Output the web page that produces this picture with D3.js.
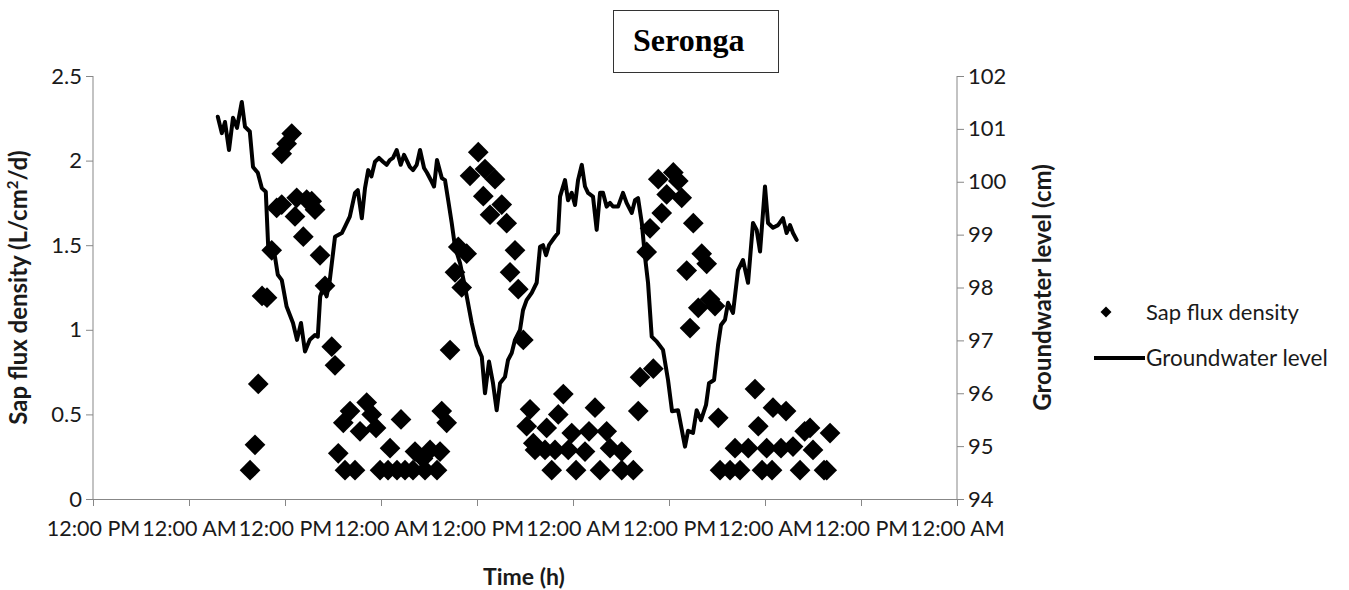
<!DOCTYPE html>
<html>
<head>
<meta charset="utf-8">
<script src="https://cdn.jsdelivr.net/npm/d3@7"></script>
<style>
html,body{margin:0;padding:0;background:#fff;}
svg{display:block;}
</style>
</head>
<body>
<svg id="chart" width="1349" height="590"></svg>
<script>
// ---- Data ----
const chartTitle = "Seronga";
const xTickLabels = ["12:00 PM","12:00 AM","12:00 PM","12:00 AM","12:00 PM","12:00 AM","12:00 PM","12:00 AM","12:00 PM","12:00 AM"];
const xTickHours = [0,12,24,36,48,60,72,84,96,108];
const leftTicks = [0,0.5,1,1.5,2,2.5];
const rightTicks = [94,95,96,97,98,99,100,101,102];

// Groundwater level (cm), hours since first tick
const gwHours = [15.6,16.1,16.5,17.0,17.5,18.0,18.6,19.0,19.6,20.0,20.6,21.1,21.6,21.9,22.75,23.1,23.6,24.2,25.0,25.5,26.0,26.5,27.1,27.75,28.1,28.4,29.0,29.2,29.6,30.25,31.1,31.5,32.1,32.75,33.1,33.6,34.0,34.4,34.8,35.25,35.75,36.25,36.7,37.1,37.5,37.96,38.46,38.88,39.2,39.6,40.0,40.46,40.88,41.38,41.75,42.34,42.63,43.0,43.6,44.0,44.4,44.84,45.25,45.88,46.5,47.34,47.96,48.6,49.0,49.5,50.0,50.46,50.88,51.5,51.88,52.34,52.75,53.38,53.75,54.2,54.84,55.46,55.88,56.25,56.63,57.0,57.75,58.13,58.38,59.0,59.38,59.84,60.25,60.63,61.1,61.5,61.88,62.5,62.96,63.38,63.75,64.2,64.63,65.0,65.63,66.25,66.7,67.34,67.75,68.13,68.6,69.0,69.38,69.84,70.5,71.25,71.88,72.38,73.13,74.0,74.38,75.0,75.46,76.0,76.63,77.0,77.63,78.13,78.5,79.0,79.38,80.0,80.63,81.25,81.88,82.5,82.96,83.38,84.0,84.38,85.0,85.63,86.25,86.7,87.13,87.5,87.96];
const gwLevel = [101.23,100.92,101.13,100.60,101.21,101.02,101.51,101.04,100.95,100.28,100.17,99.88,99.81,98.77,98.58,98.24,98.14,97.64,97.33,97.01,97.33,96.79,97.01,97.10,97.07,97.83,98.09,97.83,98.14,98.96,99.03,99.15,99.34,99.79,99.84,99.31,99.88,100.22,100.10,100.38,100.45,100.38,100.32,100.41,100.45,100.60,100.32,100.51,100.41,100.28,100.22,100.32,100.60,100.26,100.17,100.00,99.91,100.41,100.07,100.03,99.65,99.22,98.77,98.46,98.01,97.33,96.91,96.69,96.00,96.60,96.19,95.68,96.19,96.31,96.63,96.76,97.01,97.20,97.57,97.76,97.90,98.09,98.77,98.80,98.61,98.80,98.96,99.03,99.72,100.03,99.65,99.79,99.56,100.03,100.32,99.91,99.79,99.72,99.09,99.79,99.79,99.53,99.60,99.53,99.53,99.79,99.60,99.41,99.65,99.69,99.22,98.58,98.09,97.07,96.97,96.82,96.25,95.66,95.68,94.99,95.29,95.25,95.68,95.49,95.78,96.19,96.25,96.91,97.29,97.39,97.71,97.52,98.33,98.52,98.09,99.22,99.09,98.68,99.91,99.22,99.13,99.18,99.31,99.03,99.18,99.03,98.90];

// Sap flux density (L/cm2/d), hours since first tick
const sapHours = [19.63,20.25,20.66,21.13,21.75,22.34,22.96,23.59,23.59,24.21,24.84,25.25,25.46,26.29,26.71,27.34,27.75,28.38,29.0,29.84,30.25,30.66,31.29,31.5,32.13,32.75,33.38,34.21,34.84,35.38,35.88,36.88,37.13,38.0,38.5,39.0,40.0,40.25,41.25,41.5,42.13,43.0,43.38,43.59,44.21,44.63,45.25,45.66,46.09,46.71,47.13,48.16,48.79,49.0,49.63,50.25,51.09,51.71,52.13,52.75,53.16,53.79,54.21,54.63,55.04,55.25,56.5,56.71,57.34,57.75,58.16,58.79,59.41,59.84,60.38,61.5,62.0,62.75,63.38,64.21,64.63,66.09,66.09,67.54,68.16,68.38,69.21,69.63,70.04,70.66,71.09,71.71,72.54,73.16,73.59,74.21,74.63,75.04,75.66,76.09,76.71,77.13,77.75,78.16,78.38,79.63,80.88,80.25,81.91,82.75,83.16,83.63,84.21,84.88,85.0,86.0,86.63,87.5,88.38,88.96,89.63,90.0,91.38,91.71,92.13];
const sapValues = [0.17,0.32,0.68,1.20,1.19,1.47,1.72,1.74,2.04,2.10,2.16,1.67,1.78,1.55,1.77,1.76,1.71,1.44,1.26,0.90,0.79,0.27,0.45,0.17,0.52,0.17,0.40,0.57,0.50,0.42,0.17,0.17,0.30,0.17,0.47,0.17,0.17,0.28,0.24,0.17,0.29,0.17,0.28,0.52,0.45,0.88,1.34,1.49,1.25,1.45,1.91,2.05,1.79,1.95,1.68,1.89,1.74,1.63,1.34,1.47,1.24,0.94,0.43,0.53,0.33,0.29,0.29,0.42,0.17,0.29,0.50,0.62,0.29,0.39,0.17,0.28,0.40,0.54,0.17,0.40,0.30,0.28,0.17,0.17,0.52,0.72,1.46,1.60,0.77,1.89,1.69,1.80,1.93,1.88,1.78,1.35,1.01,1.63,1.13,1.45,1.39,1.18,1.14,0.48,0.17,0.17,0.17,0.30,0.30,0.65,0.43,0.17,0.30,0.17,0.54,0.30,0.52,0.31,0.17,0.40,0.42,0.29,0.17,0.17,0.39,0.65];

// ---- Chart ----
const svg = d3.select("#chart");
const plotL = 93, plotR = 957, plotT = 76, plotB = 499;
const FONT = "Lato, 'Open Sans', sans-serif";
const AXIS = "#878787";
const TXT = "#1a1a1a";

const x = d3.scaleLinear().domain([0,108]).range([plotL,plotR]);
const yL = d3.scaleLinear().domain([0,2.5]).range([plotB,plotT]);
const yR = d3.scaleLinear().domain([94,102]).range([plotB,plotT]);

// X axis
const xAxis = d3.axisBottom(x).tickValues(xTickHours).tickSize(7).tickFormat((d,i)=>xTickLabels[i]);
const gx = svg.append("g").attr("transform",`translate(0,${plotB})`).call(xAxis);
gx.select(".domain").attr("stroke",AXIS);
gx.selectAll(".tick line").attr("stroke",AXIS);
gx.selectAll(".tick text").attr("font-family",FONT).attr("font-size",21.5).attr("fill",TXT).attr("y",22).attr("dy","0.71em");

// Left axis
const yAxisL = d3.axisLeft(yL).tickValues(leftTicks).tickSize(7).tickFormat(d3.format("~g"));
const gl = svg.append("g").attr("transform",`translate(${plotL},0)`).call(yAxisL);
gl.select(".domain").attr("stroke",AXIS).attr("d",`M0,${plotT}V${plotB}`);
gl.selectAll(".tick line").attr("stroke",AXIS);
gl.selectAll(".tick text").attr("font-family",FONT).attr("font-size",22).attr("fill",TXT).attr("x",-11);

// Right axis
const yAxisR = d3.axisRight(yR).tickValues(rightTicks).tickSize(7);
const gr = svg.append("g").attr("transform",`translate(${plotR},0)`).call(yAxisR);
gr.select(".domain").attr("stroke",AXIS).attr("d",`M0,${plotT}V${plotB}`);
gr.selectAll(".tick line").attr("stroke",AXIS);
gr.selectAll(".tick text").attr("font-family",FONT).attr("font-size",22).attr("fill",TXT).attr("x",11);

// Groundwater line
const gwData = d3.zip(gwHours, gwLevel);
svg.append("path")
  .datum(gwData)
  .attr("fill","none")
  .attr("stroke","#000")
  .attr("stroke-width",4)
  .attr("stroke-linejoin","round")
  .attr("stroke-linecap","round")
  .attr("d", d3.line().x(d=>x(d[0])).y(d=>yR(d[1])));

// Sap flux diamonds
const sapData = d3.zip(sapHours, sapValues);
const diamond = d3.symbol().type(d3.symbolSquare).size(215);
svg.append("g").selectAll("path")
  .data(sapData).join("path")
  .attr("d", diamond)
  .attr("fill","#000")
  .attr("transform", d=>`translate(${x(d[0])},${yL(d[1])}) rotate(45)`);

// Axis titles
svg.append("text").attr("x",(plotL+plotR)/2 - 1).attr("y",585)
  .attr("text-anchor","middle").attr("font-family",FONT).attr("font-weight","bold")
  .attr("font-size",23).attr("fill",TXT).text("Time (h)");

const lt = svg.append("text").attr("transform",`translate(27,${(plotT+plotB)/2}) rotate(-90)`)
  .attr("text-anchor","middle").attr("font-family",FONT).attr("font-weight","bold")
  .attr("font-size",24).attr("fill",TXT);
lt.append("tspan").text("Sap flux density (L/cm");
lt.append("tspan").attr("font-size",15).attr("dy",-9).text("2");
lt.append("tspan").attr("dy",9).text("/d)");

svg.append("text").attr("transform",`translate(1051,${(plotT+plotB)/2}) rotate(-90)`)
  .attr("text-anchor","middle").attr("font-family",FONT).attr("font-weight","bold")
  .attr("font-size",24).attr("fill",TXT).text("Groundwater level (cm)");

// Title box
svg.append("rect").attr("x",613.5).attr("y",10.5).attr("width",165).attr("height",62)
  .attr("fill","#fff").attr("stroke","#333").attr("stroke-width",1);
svg.append("text").attr("x",633).attr("y",51)
  .attr("font-family","'Liberation Serif','Times New Roman',serif").attr("font-weight","bold")
  .attr("font-size",32).attr("fill","#000").text(chartTitle);

// Legend
const lg = svg.append("g");
lg.append("path").attr("d", d3.symbol().type(d3.symbolSquare).size(60))
  .attr("transform","translate(1106,312) rotate(45)").attr("fill","#000");
lg.append("text").attr("x",1146).attr("y",312).attr("dy","0.35em")
  .attr("font-family",FONT).attr("font-size",22).attr("fill",TXT).text("Sap flux density");
lg.append("line").attr("x1",1094).attr("x2",1145).attr("y1",358).attr("y2",358)
  .attr("stroke","#000").attr("stroke-width",4);
lg.append("text").attr("x",1146).attr("y",358).attr("dy","0.35em")
  .attr("font-family",FONT).attr("font-size",22.5).attr("fill",TXT).text("Groundwater level");
</script>
</body>
</html>
